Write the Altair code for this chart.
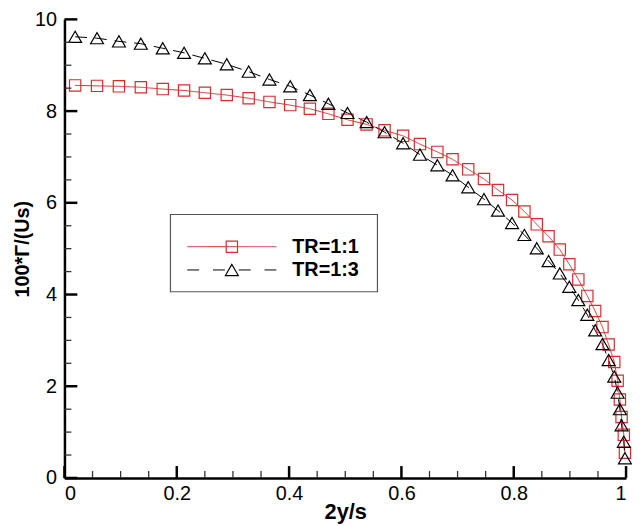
import altair as alt
import pandas as pd

# ---- data ----
x_pos = [0.019, 0.058, 0.097, 0.136, 0.175, 0.213, 0.250, 0.289, 0.328, 0.365,
         0.402, 0.437, 0.470, 0.504, 0.538, 0.570, 0.603, 0.633, 0.664, 0.691,
         0.719, 0.747, 0.772, 0.797, 0.819, 0.841, 0.862, 0.882, 0.899, 0.915,
         0.931, 0.945, 0.958, 0.969, 0.979, 0.985, 0.989, 0.992, 0.996, 0.998]

gamma_tr11 = [8.56, 8.55, 8.54, 8.52, 8.48, 8.45, 8.40, 8.35, 8.28, 8.20,
              8.13, 8.05, 7.94, 7.81, 7.71, 7.58, 7.46, 7.28, 7.11, 6.95,
              6.73, 6.52, 6.28, 6.06, 5.81, 5.53, 5.27, 4.98, 4.66, 4.33,
              3.97, 3.64, 3.29, 2.91, 2.53, 2.12, 1.71, 1.33, 0.94, 0.55]

gamma_tr13 = [9.62, 9.59, 9.52, 9.47, 9.37, 9.27, 9.15, 9.02, 8.86, 8.69,
              8.54, 8.35, 8.16, 7.96, 7.76, 7.54, 7.30, 7.05, 6.82, 6.60,
              6.34, 6.08, 5.83, 5.56, 5.30, 5.01, 4.73, 4.46, 4.17, 3.88,
              3.56, 3.22, 2.92, 2.57, 2.21, 1.86, 1.50, 1.15, 0.79, 0.43]

series_names = ["TR=1:1", "TR=1:3"]
series_colors = ["#d62d2d", "#000000"]
series_shapes = ["square", "triangle-up"]

x_major = [0, 0.2, 0.4, 0.6, 0.8, 1.0]
x_minor = [0.05, 0.1, 0.15, 0.25, 0.3, 0.35, 0.45, 0.5,
           0.55, 0.65, 0.7, 0.75, 0.85, 0.9, 0.95]
y_major = [0, 2, 4, 6, 8, 10]
y_minor = [0.5, 1, 1.5, 2.5, 3, 3.5, 4.5, 5, 5.5, 6.5, 7, 7.5,
           8.5, 9, 9.5]

x_title = "2y/s"
y_title = "100*Γ/(Us)"

df = pd.DataFrame({
    "x": x_pos + x_pos,
    "g": gamma_tr11 + gamma_tr13,
    "series": [series_names[0]] * len(x_pos) + [series_names[1]] * len(x_pos),
})

W, H = 567, 463
X_LO, X_HI, Y_LO, Y_HI = 0, 1, 0, 10
FONT = "Liberation Sans"
xs = alt.Scale(domain=[X_LO, X_HI], nice=False, zero=False)
ys = alt.Scale(domain=[Y_LO, Y_HI], nice=False, zero=False)
col = alt.Scale(domain=series_names, range=series_colors)
shp = alt.Scale(domain=series_names, range=series_shapes)
sz = alt.Scale(domain=series_names, range=[130, 170])
dash = alt.Scale(domain=series_names, range=[[1, 0], [12, 8]])

base = alt.Chart(df)

lines = base.mark_line(strokeWidth=1).encode(
    x=alt.X("x:Q", scale=xs, axis=alt.Axis(
        values=x_major, format="~g", tickSize=0, gridOpacity=0,
        domainColor="black", domainWidth=2.5,
        labelFont=FONT, labelFontSize=20, labelColor="black", labelPadding=6,
        title=x_title, titleFont=FONT, titleFontSize=22, titleFontWeight="bold",
        titleColor="black", titlePadding=-2)),
    y=alt.Y("g:Q", scale=ys, axis=alt.Axis(
        values=y_major, format=".0f", tickSize=0, gridOpacity=0,
        domainColor="black", domainWidth=2.5,
        labelFont=FONT, labelFontSize=20, labelColor="black", labelPadding=8,
        title=y_title, titleFont=FONT, titleFontSize=20, titleFontWeight="bold",
        titleColor="black", titlePadding=2)),
    color=alt.Color("series:N", scale=col, legend=None),
    strokeDash=alt.StrokeDash("series:N", scale=dash, legend=None),
)

points = base.mark_point(filled=False, strokeWidth=1.2, opacity=1).encode(
    x=alt.X("x:Q", scale=xs),
    y=alt.Y("g:Q", scale=ys),
    color=alt.Color("series:N", scale=col, legend=None),
    shape=alt.Shape("series:N", scale=shp, legend=None),
    size=alt.Size("series:N", scale=sz, legend=None),
)

# ---- inward-pointing axis ticks, drawn through the shared data scales ----
def xticks(vals, length_px, width, color):
    span = length_px / H * (Y_HI - Y_LO)
    t = pd.DataFrame({"v": vals, "a": [Y_LO] * len(vals), "b": [Y_LO + span] * len(vals)})
    return alt.Chart(t).mark_rule(color=color, strokeWidth=width).encode(
        x=alt.X("v:Q", scale=xs), y=alt.Y("a:Q", scale=ys), y2="b:Q")

def yticks(vals, length_px, width, color):
    span = length_px / W * (X_HI - X_LO)
    t = pd.DataFrame({"v": vals, "a": [X_LO] * len(vals), "b": [X_LO + span] * len(vals)})
    return alt.Chart(t).mark_rule(color=color, strokeWidth=width).encode(
        y=alt.Y("v:Q", scale=ys), x=alt.X("a:Q", scale=xs), x2="b:Q")

tick_layers = [
    xticks(x_minor, 7, 1.3, "#333333"),
    yticks(y_minor, 7, 1.3, "#333333"),
    xticks(x_major, 12, 2.5, "black"),
    yticks(y_major, 13, 2.5, "black"),
]

# ---- hand-drawn legend box ----
leg_df = pd.DataFrame({"series": series_names})
box = alt.Chart(leg_df).transform_filter(
    alt.datum.series == series_names[0]
).mark_rect(fill="white", stroke="#555555", strokeWidth=1.2).encode(
    x=alt.value(107), x2=alt.value(316), y=alt.value(197), y2=alt.value(275))

legend_layers = [box]
leg_y = [229.5, 253]
leg_dash = [[1, 0], [12, 14]]
for i, name in enumerate(series_names):
    sub = alt.Chart(leg_df).transform_filter(alt.datum.series == name)
    legend_layers.append(sub.mark_rule(color=series_colors[i], strokeWidth=1,
                                       strokeDash=leg_dash[i]).encode(
        x=alt.value(124), x2=alt.value(214), y=alt.value(leg_y[i])))
    legend_layers.append(sub.mark_point(shape=series_shapes[i], filled=False,
                                        color=series_colors[i], strokeWidth=1.2,
                                        size=[130, 170][i], opacity=1).encode(
        x=alt.value(169), y=alt.value(leg_y[i])))
    legend_layers.append(sub.mark_text(align="left", baseline="middle", font=FONT,
                                       fontSize=20, fontWeight="bold",
                                       color="black").encode(
        x=alt.value(230), y=alt.value(leg_y[i]), text="series:N"))

chart = alt.layer(lines, points, *tick_layers, *legend_layers).properties(
    width=W, height=H,
    autosize=alt.AutoSizeParams(type="none"),
    padding={"left": 57, "top": 9, "right": 6, "bottom": 44},
    background="white",
).configure_view(stroke=None)

chart.save("out.html", embed_options={"renderer": "svg", "actions": False})
